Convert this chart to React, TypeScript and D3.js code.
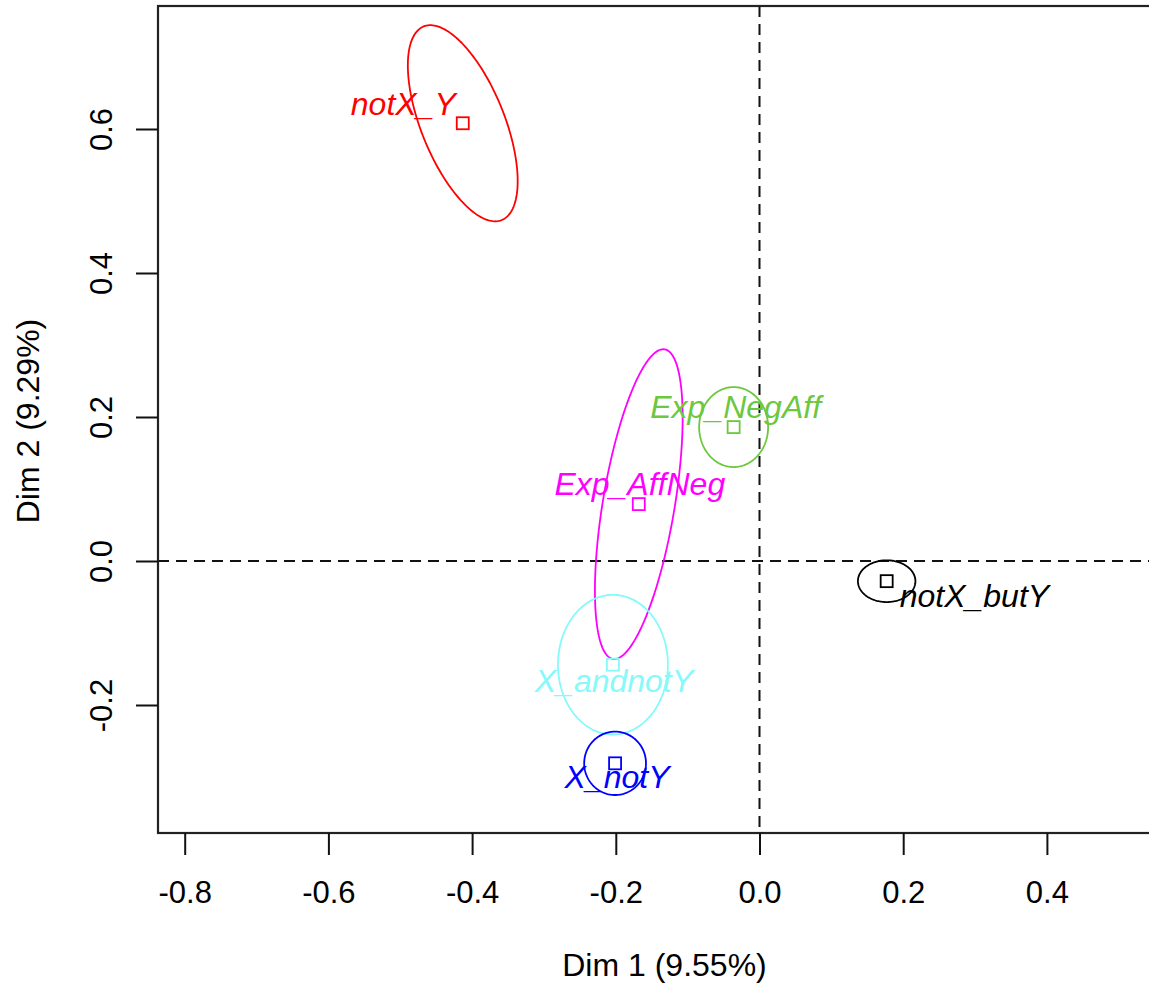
import * as d3 from 'd3';
import { useEffect, useRef } from 'react';

// categories and coordinates on the two dimensions
const categories = ['notX_Y', 'Exp_NegAff', 'Exp_AffNeg', 'X_andnotY', 'X_notY', 'notX_butY'];
const dim1 = [-0.413, -0.036, -0.168, -0.204, -0.201, 0.177];
const dim2 = [0.608, 0.186, 0.079, -0.144, -0.281, -0.028];

// confidence ellipses: semi-axis along x', semi-axis along y', rotation (deg)
const ellipseRx = [0.058, 0.048, 0.05, 0.0765, 0.043, 0.04];
const ellipseRy = [0.145, 0.0555, 0.218, 0.097, 0.044, 0.029];
const ellipseTilt = [22, 0, -9.5, 0, 0, 0];

const xTicks = [-0.8, -0.6, -0.4, -0.2, 0.0, 0.2, 0.4];
const yTicks = [-0.2, 0.0, 0.2, 0.4, 0.6];

const colors = ['#ff0000', '#6cc83e', '#ff00ff', '#86fafa', '#0000ff', '#000000'];
// label placement relative to the point (px)
const labelPlace = [
    { dx: -7, dy: -8, anchor: 'end' },
    { dx: 2, dy: -9, anchor: 'middle' },
    { dx: 1, dy: -9, anchor: 'middle' },
    { dx: 1, dy: 27, anchor: 'middle' },
    { dx: 2, dy: 25, anchor: 'middle' },
    { dx: 13, dy: 26, anchor: 'start' },
];

const fmt = (v: number) => d3.format('.1f')(v).replace('−', '-');

function App() {
    const svgRef = useRef<SVGSVGElement>(null);

    useEffect(() => {
        const w = 1149;
        const h = 988;
        const left = 158, top = 6, bottom = 833, right = 1165;
        const font = '"Liberation Sans", Arial, Helvetica, sans-serif';

        const x = d3.scaleLinear().domain([-0.8, 0.4]).range([184.7, 1046.9]);
        const y = d3.scaleLinear().domain([-0.2, 0.6]).range([705, 129]);

        const svg = d3.select(svgRef.current)
            .attr('width', w)
            .attr('height', h)
            .style('position', 'absolute')
            .style('left', '0px')
            .style('top', '0px')
            .style('font-family', font);
        svg.selectAll('*').remove();

        // reference lines
        svg.append('line')
            .attr('x1', x(0)).attr('x2', x(0))
            .attr('y1', top).attr('y2', bottom)
            .attr('stroke', '#111').attr('stroke-width', 2)
            .attr('stroke-dasharray', '11,7');
        svg.append('line')
            .attr('x1', left).attr('x2', right)
            .attr('y1', y(0)).attr('y2', y(0))
            .attr('stroke', '#111').attr('stroke-width', 2)
            .attr('stroke-dasharray', '11,7');

        const data = categories.map((c, i) => ({
            name: c, x: dim1[i], y: dim2[i],
            rx: ellipseRx[i], ry: ellipseRy[i], tilt: ellipseTilt[i],
            color: colors[i], place: labelPlace[i],
        }));

        const line = d3.line<[number, number]>()
            .x(d => x(d[0]))
            .y(d => y(d[1]))
            .curve(d3.curveLinearClosed);

        // ellipses
        svg.append('g').selectAll('path')
            .data(data)
            .join('path')
                .attr('d', d => {
                    const phi = d.tilt * Math.PI / 180;
                    const pts = d3.range(0, 2 * Math.PI, Math.PI / 90).map(t => [
                        d.x + d.rx * Math.cos(t) * Math.cos(phi) - d.ry * Math.sin(t) * Math.sin(phi),
                        d.y + d.rx * Math.cos(t) * Math.sin(phi) + d.ry * Math.sin(t) * Math.cos(phi),
                    ] as [number, number]);
                    return line(pts);
                })
                .attr('fill', 'none')
                .attr('stroke', d => d.color)
                .attr('stroke-width', 1.8);

        // point squares
        const sq = 12;
        svg.append('g').selectAll('rect')
            .data(data)
            .join('rect')
                .attr('x', d => x(d.x) - sq / 2)
                .attr('y', d => y(d.y) - sq / 2)
                .attr('width', sq)
                .attr('height', sq)
                .attr('fill', 'none')
                .attr('stroke', d => d.color)
                .attr('stroke-width', 1.8);

        // labels
        svg.append('g').selectAll('text')
            .data(data)
            .join('text')
                .attr('x', d => x(d.x) + d.place.dx)
                .attr('y', d => y(d.y) + d.place.dy)
                .attr('text-anchor', d => d.place.anchor)
                .attr('fill', d => d.color)
                .attr('font-style', 'italic')
                .attr('font-size', 32)
                .text(d => d.name);

        // box
        svg.append('rect')
            .attr('x', left).attr('y', top)
            .attr('width', right - left).attr('height', bottom - top)
            .attr('fill', 'none')
            .attr('stroke', '#222')
            .attr('stroke-width', 2.2);

        // x axis
        const xAxis = d3.axisBottom(x)
            .tickValues(xTicks)
            .tickSize(22)
            .tickPadding(26)
            .tickFormat(d => fmt(d as number));
        const gx = svg.append('g')
            .attr('transform', `translate(0, ${bottom})`)
            .call(xAxis);
        gx.select('.domain').remove();
        gx.selectAll('line').attr('stroke', '#111').attr('stroke-width', 2);
        gx.selectAll('text').attr('font-size', 31).attr('font-family', font).attr('fill', '#000');

        // y axis
        const yAxis = d3.axisLeft(y)
            .tickValues(yTicks)
            .tickSize(22)
            .tickPadding(0)
            .tickFormat(d => fmt(d as number));
        const gy = svg.append('g')
            .attr('transform', `translate(${left}, 0)`)
            .call(yAxis);
        gy.select('.domain').remove();
        gy.selectAll('line').attr('stroke', '#111').attr('stroke-width', 2);
        gy.selectAll('text')
            .attr('font-size', 31)
            .attr('font-family', font)
            .attr('fill', '#000')
            .attr('x', 0)
            .attr('dy', 0)
            .attr('text-anchor', 'middle')
            .attr('transform', 'translate(-46, 0) rotate(-90)');

        // axis titles
        svg.append('text')
            .attr('x', x(0) - 95)
            .attr('y', 976)
            .attr('text-anchor', 'middle')
            .attr('font-size', 32)
            .text('Dim 1 (9.55%)');
        svg.append('text')
            .attr('transform', `translate(39, ${y(0.2) + 4}) rotate(-90)`)
            .attr('text-anchor', 'middle')
            .attr('font-size', 32)
            .text('Dim 2 (9.29%)');
    }, []);

    return (
        <div>
            <svg ref={svgRef}></svg>
        </div>
    );
}

export default App;
